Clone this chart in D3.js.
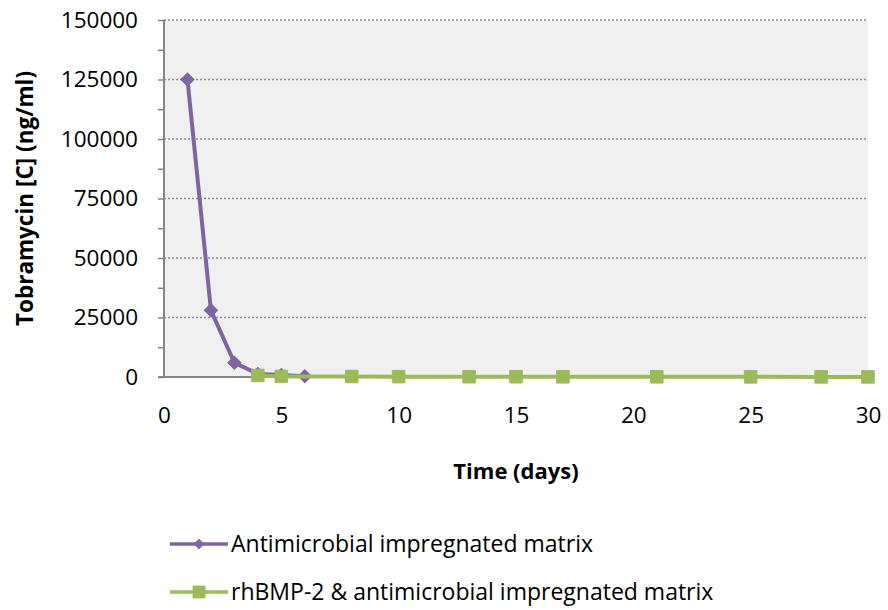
<!DOCTYPE html>
<html>
<head>
<meta charset="utf-8">
<script src="https://cdn.jsdelivr.net/npm/d3@7"></script>
<style>
  html, body { margin: 0; padding: 0; background: #fff; }
  svg { display: block; font-family: "Open Sans", "Noto Sans", sans-serif; }
</style>
</head>
<body>
<svg id="chart" width="888" height="610"></svg>
<script>
// Tobramycin release over time (ng/ml)
const antimicrobialDays = [1, 2, 3, 4, 5, 6];
const antimicrobialConc = [125000, 28000, 6000, 1300, 800, 300];

const rhbmpDays = [4, 5, 8, 10, 13, 15, 17, 21, 25, 28, 30];
const rhbmpConc = [650, 250, 200, 150, 120, 100, 90, 80, 60, 50, 40];

const xTicks = [0, 5, 10, 15, 20, 25, 30];
const yTicks = [0, 25000, 50000, 75000, 100000, 125000, 150000];
const yMinorTicks = d3.range(0, 150001, 12500);

const seriesNames = ["Antimicrobial impregnated matrix", "rhBMP-2 & antimicrobial impregnated matrix"];
const purple = "#8064A2";
const green = "#9BBB59";

const svg = d3.select("#chart");
const plot = { left: 164, right: 868, top: 20, bottom: 377 };

const x = d3.scaleLinear().domain([0, 30]).range([plot.left, plot.right]);
const y = d3.scaleLinear().domain([0, 150000]).range([plot.bottom, plot.top]);

// plot background
svg.append("rect")
  .attr("x", plot.left).attr("y", plot.top)
  .attr("width", plot.right - plot.left).attr("height", plot.bottom - plot.top)
  .attr("fill", "#f0f0f0");

// dotted horizontal gridlines
svg.append("g").selectAll("line")
  .data(yTicks.filter(d => d > 0))
  .join("line")
  .attr("x1", plot.left).attr("x2", plot.right)
  .attr("y1", d => y(d)).attr("y2", d => y(d))
  .attr("stroke", "#8c8c8c").attr("stroke-width", 1.5)
  .attr("stroke-dasharray", "2,2");

// y axis: minor tick marks
const yMinor = svg.append("g")
  .attr("transform", `translate(${plot.left},0)`)
  .call(d3.axisLeft(y).tickValues(yMinorTicks).tickSize(6).tickFormat(""));
yMinor.selectAll("line").attr("stroke", "#868686").attr("stroke-width", 1.5);
yMinor.select(".domain").remove();

// y axis: labels
const yAxis = svg.append("g")
  .attr("transform", `translate(${plot.left},0)`)
  .call(d3.axisLeft(y).tickValues(yTicks).tickSize(0).tickPadding(26).tickFormat(d3.format("d")));
yAxis.select(".domain").remove();
yAxis.selectAll("text")
  .attr("font-family", "'Open Sans', sans-serif")
  .attr("font-size", 22.5).attr("fill", "#000");

// y axis line
svg.append("line")
  .attr("x1", plot.left).attr("x2", plot.left)
  .attr("y1", plot.top).attr("y2", plot.bottom)
  .attr("stroke", "#868686").attr("stroke-width", 2);

// x axis
const xAxis = svg.append("g")
  .attr("transform", `translate(0,${plot.bottom})`)
  .call(d3.axisBottom(x).tickValues(xTicks).tickSize(0).tickPadding(30));
xAxis.select(".domain").remove();
xAxis.selectAll("text")
  .attr("font-family", "'Open Sans', sans-serif")
  .attr("font-size", 22.5).attr("fill", "#000");

svg.append("line")
  .attr("x1", plot.left - 6).attr("x2", plot.right)
  .attr("y1", plot.bottom).attr("y2", plot.bottom)
  .attr("stroke", "#868686").attr("stroke-width", 2);

// axis titles
svg.append("text")
  .attr("x", (plot.left + plot.right) / 2).attr("y", 479)
  .attr("text-anchor", "middle")
  .attr("font-size", 22).attr("font-weight", "bold")
  .text("Time (days)");

svg.append("text")
  .attr("transform", `translate(33,${(plot.top + plot.bottom) / 2}) rotate(-90)`)
  .attr("text-anchor", "middle")
  .attr("font-size", 22.5).attr("font-weight", "bold")
  .text("Tobramycin [C] (ng/ml)");

// series
const line = d3.line().x(d => x(d[0])).y(d => y(d[1]));
const purpleData = antimicrobialDays.map((d, i) => [d, antimicrobialConc[i]]);
const greenData = rhbmpDays.map((d, i) => [d, rhbmpConc[i]]);

svg.append("path").datum(purpleData)
  .attr("d", line).attr("fill", "none")
  .attr("stroke", purple).attr("stroke-width", 4).attr("stroke-linejoin", "round");
svg.append("g").selectAll("path").data(purpleData).join("path")
  .attr("transform", d => `translate(${x(d[0])},${y(d[1])}) rotate(45)`)
  .attr("d", d3.symbol().type(d3.symbolSquare2).size(110))
  .attr("fill", purple).attr("stroke", purple).attr("stroke-width", 1);

svg.append("path").datum(greenData)
  .attr("d", line).attr("fill", "none")
  .attr("stroke", green).attr("stroke-width", 4).attr("stroke-linejoin", "round");
svg.append("g").selectAll("path").data(greenData).join("path")
  .attr("transform", d => `translate(${x(d[0])},${y(d[1])})`)
  .attr("d", d3.symbol().type(d3.symbolSquare2).size(200))
  .attr("fill", green).attr("stroke", green).attr("stroke-width", 1);

// legend
const legend = svg.append("g");
const legendRows = [
  { name: seriesNames[0], color: purple, sym: "diamond", y: 544 },
  { name: seriesNames[1], color: green, sym: "square", y: 592 }
];
legendRows.forEach(r => {
  legend.append("line")
    .attr("x1", 170).attr("x2", 228).attr("y1", r.y).attr("y2", r.y)
    .attr("stroke", r.color).attr("stroke-width", 3.5);
  legend.append("path")
    .attr("transform", r.sym === "diamond" ? `translate(199,${r.y}) rotate(45)` : `translate(199,${r.y})`)
    .attr("d", d3.symbol().type(d3.symbolSquare2).size(r.sym === "diamond" ? 55 : 180))
    .attr("fill", r.color).attr("stroke", r.color);
  legend.append("text")
    .attr("x", 231).attr("y", r.y + 8)
    .attr("font-size", 23).attr("fill", "#000")
    .text(r.name);
});
</script>
</body>
</html>
